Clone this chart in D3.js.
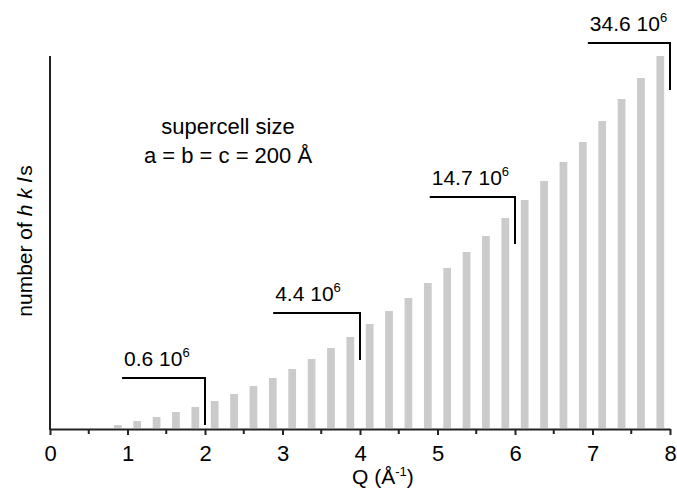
<!DOCTYPE html>
<html>
<head>
<meta charset="utf-8">
<script src="https://cdn.jsdelivr.net/npm/d3@7"></script>
<style>
  body { margin: 0; background: #fff; }
  text { font-family: "Liberation Sans", Arial, sans-serif; fill: #000; }
</style>
</head>
<body>
<svg id="chart" width="677" height="490"></svg>
<script>
// bin centres (Q, 1/A) and number of hkls in each bin (arbitrary units)
var binQ = [0.875, 1.125, 1.375, 1.625, 1.875, 2.125, 2.375, 2.625, 2.875, 3.125,
            3.375, 3.625, 3.875, 4.125, 4.375, 4.625, 4.875, 5.125, 5.375, 5.625,
            5.875, 6.125, 6.375, 6.625, 6.875, 7.125, 7.375, 7.625, 7.875];
var binCount = [3, 7, 11, 16, 21, 27, 34, 42, 50, 59,
                69, 80, 91, 104, 117, 130, 145, 160, 176, 192,
                210, 228, 247, 266, 286, 307, 329, 350, 372];

// cumulative totals shown as brackets
var annQ = [2, 4, 6, 8];
var annFrom = [0.93, 2.88, 4.9, 6.94];
var annLevel = [50, 115, 231, 385];
var annText = ["0.6", "4.4", "14.7", "34.6"];

var xTicks = [0, 1, 2, 3, 4, 5, 6, 7, 8];
var xMinor = [0.5, 1.5, 2.5, 3.5, 4.5, 5.5, 6.5, 7.5];

var svg = d3.select("#chart");
var x = d3.scaleLinear().domain([0, 8]).range([50, 670]);
var y = d3.scaleLinear().domain([0, 372]).range([428, 56]);

var barW = x(0.1) - x(0);

//bars
svg.append("g").selectAll("rect")
   .data(binQ).enter()
   .append("rect")
   .attr("x", function(d) { return x(d) - barW / 2; })
   .attr("width", barW)
   .attr("y", function(d, i) { return y(binCount[i]); })
   .attr("height", function(d, i) { return y(0) - y(binCount[i]); })
   .style("fill", "#cbcbcb");

//axes
var axisCol = "#222";
svg.append("g")
   .attr("transform", "translate(0,429)")
   .call(d3.axisBottom(x).tickValues(xTicks).tickSize(6).tickSizeOuter(0).tickPadding(10).tickFormat(d3.format("d")))
   .call(function(g) {
      g.select(".domain").attr("stroke", axisCol).attr("stroke-width", 2);
      g.selectAll(".tick line").attr("stroke", axisCol).attr("stroke-width", 2);
      g.selectAll("text").attr("font-size", 22).attr("font-family", "Liberation Sans, Arial, sans-serif").attr("fill", "#000");
   });

svg.append("g").selectAll("line.minor")
   .data(xMinor).enter()
   .append("line")
   .attr("class", "minor")
   .attr("x1", function(d) { return x(d); })
   .attr("x2", function(d) { return x(d); })
   .attr("y1", 429).attr("y2", 434)
   .attr("stroke", axisCol).attr("stroke-width", 2);

svg.append("line")
   .attr("x1", x(0)).attr("x2", x(0))
   .attr("y1", y(372)).attr("y2", 430)
   .attr("stroke", axisCol).attr("stroke-width", 2);

//axis titles
var xt = svg.append("text")
   .attr("x", 352).attr("y", 484)
   .attr("font-size", 21);
xt.append("tspan").text("Q (Å");
xt.append("tspan").attr("font-size", 13).attr("dy", -8).text("-1");
xt.append("tspan").attr("dy", 8).text(")");

var yt = svg.append("text")
   .attr("transform", "translate(32,241) rotate(-90)")
   .attr("text-anchor", "middle")
   .attr("font-size", 21);
yt.append("tspan").text("number of ");
yt.append("tspan").attr("font-style", "italic").text("h k l");
yt.append("tspan").attr("dx", 2).text("s");

//supercell note
svg.append("text")
   .attr("x", 228).attr("y", 134)
   .attr("text-anchor", "middle").attr("font-size", 22)
   .text("supercell size");
svg.append("text")
   .attr("x", 228).attr("y", 163)
   .attr("text-anchor", "middle").attr("font-size", 22)
   .text("a = b = c = 200 Å");

//brackets
var ann = svg.append("g").selectAll("g.ann")
   .data(annQ).enter()
   .append("g").attr("class", "ann");

ann.append("path")
   .attr("d", function(d, i) {
      var top = y(annLevel[i]);
      return "M" + x(annFrom[i]) + "," + top + "H" + x(d) + "V" + (top + 47);
   })
   .attr("fill", "none")
   .attr("stroke", "#000")
   .attr("stroke-width", 2);

var lab = ann.append("text")
   .attr("x", function(d, i) { return x(annFrom[i]) + 2; })
   .attr("y", function(d, i) { return y(annLevel[i]) - 12; })
   .attr("font-size", 21);
lab.append("tspan").text(function(d, i) { return annText[i] + " 10"; });
lab.append("tspan").attr("font-size", 13).attr("dy", -9).text("6");
</script>
</body>
</html>
